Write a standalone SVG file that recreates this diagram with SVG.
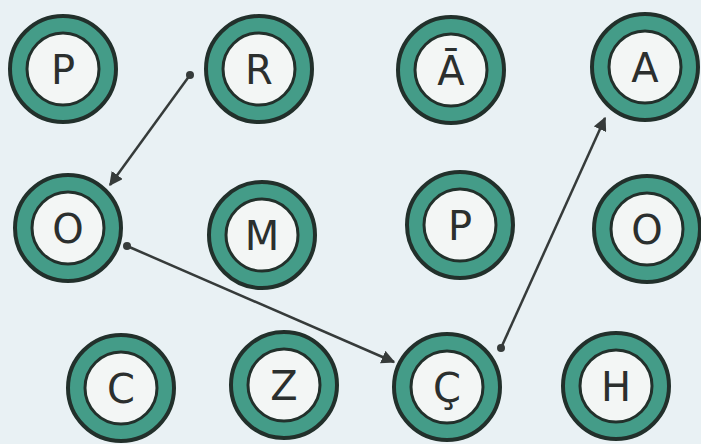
<svg xmlns="http://www.w3.org/2000/svg" width="701" height="444" viewBox="0 0 701 444">
<defs>
<style>
.ring{fill:#449c88;stroke:#22302b;stroke-width:4}
.core{fill:#f3f6f5;stroke:#22302b;stroke-width:3}
.lbl{font-family:"DejaVu Sans","Liberation Sans",sans-serif;font-size:40px;fill:#2b2f2e;text-anchor:middle}
.edge{stroke:#363b3a;stroke-width:2.5;fill:none}
</style>
<marker id="arr" viewBox="0 0 10 10" refX="9" refY="5" markerWidth="5.5" markerHeight="5.5" orient="auto" markerUnits="strokeWidth">
<path d="M0,0 L10,5 L0,10 z" fill="#363b3a"/>
</marker>
<marker id="dot" viewBox="0 0 10 10" refX="5" refY="5" markerWidth="3.2" markerHeight="3.2" markerUnits="strokeWidth">
<circle cx="5" cy="5" r="5" fill="#363b3a"/>
</marker>
</defs>
<rect width="701" height="444" fill="#e9f1f4"/>
<g id="n-P1"><circle class="ring" cx="63" cy="69" r="53"/><circle class="core" cx="63" cy="69" r="36"/><text class="lbl" x="63" y="84">P</text></g>
<g id="n-R"><circle class="ring" cx="259" cy="69" r="53"/><circle class="core" cx="259" cy="69" r="36"/><text class="lbl" x="259" y="84">R</text></g>
<g id="n-A1"><circle class="ring" cx="451" cy="70" r="53"/><circle class="core" cx="451" cy="70" r="36"/><text class="lbl" x="451" y="85">Ā</text></g>
<g id="n-A2"><circle class="ring" cx="645" cy="67" r="53"/><circle class="core" cx="645" cy="67" r="36"/><text class="lbl" x="645" y="82">A</text></g>
<g id="n-O1"><circle class="ring" cx="68" cy="228" r="53"/><circle class="core" cx="68" cy="228" r="36"/><text class="lbl" x="68" y="243">O</text></g>
<g id="n-M"><circle class="ring" cx="262" cy="235" r="53"/><circle class="core" cx="262" cy="235" r="36"/><text class="lbl" x="262" y="250">M</text></g>
<g id="n-P2"><circle class="ring" cx="460" cy="225" r="53"/><circle class="core" cx="460" cy="225" r="36"/><text class="lbl" x="460" y="240">P</text></g>
<g id="n-O2"><circle class="ring" cx="647" cy="229" r="53"/><circle class="core" cx="647" cy="229" r="36"/><text class="lbl" x="647" y="244">O</text></g>
<g id="n-C"><circle class="ring" cx="121" cy="388" r="53"/><circle class="core" cx="121" cy="388" r="36"/><text class="lbl" x="121" y="403">C</text></g>
<g id="n-Z"><circle class="ring" cx="284" cy="385" r="53"/><circle class="core" cx="284" cy="385" r="36"/><text class="lbl" x="284" y="400">Z</text></g>
<g id="n-Cc"><circle class="ring" cx="447" cy="387" r="53"/><circle class="core" cx="447" cy="387" r="36"/><text class="lbl" x="447" y="402">Ç</text></g>
<g id="n-H"><circle class="ring" cx="616" cy="386" r="53"/><circle class="core" cx="616" cy="386" r="36"/><text class="lbl" x="616" y="401">H</text></g>
<g id="connectors">
<line class="edge" x1="190" y1="75" x2="110" y2="185" marker-start="url(#dot)" marker-end="url(#arr)"/>
<line class="edge" x1="127" y1="246" x2="394" y2="362" marker-start="url(#dot)" marker-end="url(#arr)"/>
<line class="edge" x1="501" y1="348" x2="605" y2="118" marker-start="url(#dot)" marker-end="url(#arr)"/>
</g>
</svg>
